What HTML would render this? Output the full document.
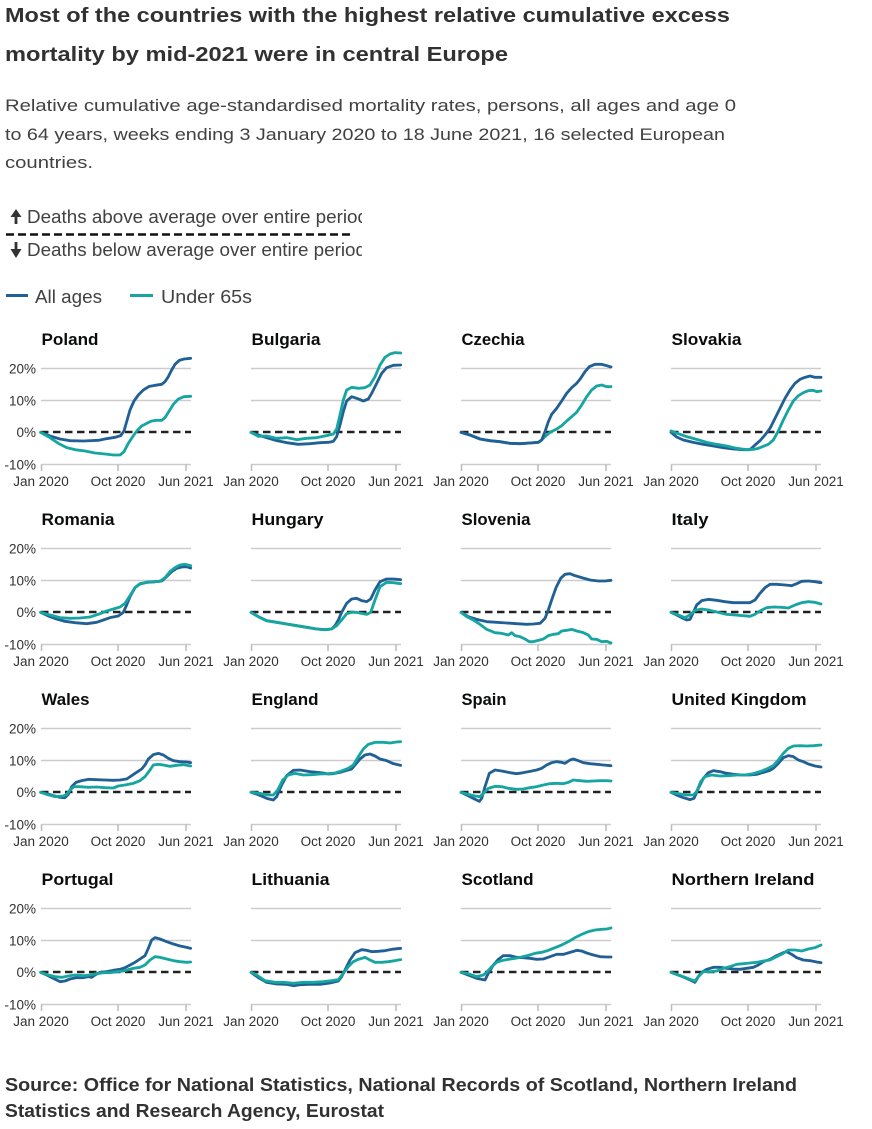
<!DOCTYPE html>
<html><head><meta charset="utf-8"><style>
html,body{margin:0;padding:0;background:#fff;}
svg{display:block;}
text{font-family:"Liberation Sans",Arial,sans-serif;}
.t{font-weight:bold;font-size:20px;fill:#323132;}
.s{font-size:17px;fill:#414042;}
.a{font-size:18px;fill:#414042;}
.pt{font-weight:bold;font-size:17px;fill:#0b0c0c;}
.yl{font-size:13.5px;fill:#323132;text-anchor:end;}
.xl{font-size:13.5px;fill:#323132;text-anchor:middle;}
.b{fill:none;stroke:#206095;stroke-width:8.5;stroke-linejoin:round;stroke-linecap:round;}
.g{fill:none;stroke:#16a5a0;stroke-width:8.5;stroke-linejoin:round;stroke-linecap:round;}
</style></head><body>
<svg width="872" height="1129" viewBox="0 0 872 1129" xmlns="http://www.w3.org/2000/svg">
<defs>
<clipPath id="clipA"><rect x="0" y="195" width="362" height="70"/></clipPath>
<g id="grid">
<line x1="0" x2="150" y1="-63.5" y2="-63.5" stroke="#cccccc" stroke-width="1.5"/>
<line x1="0" x2="150" y1="-31.5" y2="-31.5" stroke="#cccccc" stroke-width="1.5"/>
<line x1="0" x2="150" y1="32.5" y2="32.5" stroke="#cccccc" stroke-width="1.5"/>
<line x1="0.5" x2="0.5" y1="32.5" y2="39" stroke="#bbbbbb" stroke-width="1.5"/>
<line x1="77" x2="77" y1="32.5" y2="39" stroke="#bbbbbb" stroke-width="1.5"/>
<line x1="145" x2="145" y1="32.5" y2="39" stroke="#bbbbbb" stroke-width="1.5"/>
<line x1="0" x2="150" y1="0" y2="0" stroke="#222" stroke-width="2.6" stroke-dasharray="7.5 4.5"/>
</g>
</defs>
<rect width="872" height="1129" fill="#fff"/>

<!-- Title -->
<text class="t" x="5" y="22" textLength="725" lengthAdjust="spacingAndGlyphs">Most of the countries with the highest relative cumulative excess</text>
<text class="t" x="5" y="61" textLength="503" lengthAdjust="spacingAndGlyphs">mortality by mid-2021 were in central Europe</text>

<text class="s" x="5" y="111" textLength="731" lengthAdjust="spacingAndGlyphs">Relative cumulative age-standardised mortality rates, persons, all ages and age 0</text>
<text class="s" x="5" y="140" textLength="720" lengthAdjust="spacingAndGlyphs">to 64 years, weeks ending 3 January 2020 to 18 June 2021, 16 selected European</text>
<text class="s" x="5" y="168" textLength="88" lengthAdjust="spacingAndGlyphs">countries.</text>

<!-- Annotation -->
<path d="M10.5,217 L16,209 L21.5,217 Z" fill="#333"/>
<rect x="14.6" y="215" width="2.8" height="9" fill="#333"/>
<g clip-path="url(#clipA)">
<text class="a" x="27" y="223" textLength="341" lengthAdjust="spacingAndGlyphs">Deaths above average over entire period</text>
<text class="a" x="27" y="256" textLength="339" lengthAdjust="spacingAndGlyphs">Deaths below average over entire period</text>
</g>
<line x1="6" x2="350" y1="234.5" y2="234.5" stroke="#111" stroke-width="2.6" stroke-dasharray="8 4"/>
<rect x="14.6" y="242" width="2.8" height="9" fill="#333"/>
<path d="M10.5,249 L16,258 L21.5,249 Z" fill="#333"/>

<!-- Legend -->
<line x1="6" x2="28" y1="295.5" y2="295.5" stroke="#206095" stroke-width="3"/>
<text class="a" x="35" y="303" textLength="67" lengthAdjust="spacingAndGlyphs">All ages</text>
<line x1="130" x2="153" y1="295.5" y2="295.5" stroke="#16a5a0" stroke-width="3"/>
<text class="a" x="161" y="303" textLength="91" lengthAdjust="spacingAndGlyphs">Under 65s</text>

<!-- Grids -->
<use href="#grid" x="41" y="432"/><use href="#grid" x="251" y="432"/><use href="#grid" x="461" y="432"/><use href="#grid" x="671" y="432"/>
<use href="#grid" x="41" y="612"/><use href="#grid" x="251" y="612"/><use href="#grid" x="461" y="612"/><use href="#grid" x="671" y="612"/>
<use href="#grid" x="41" y="792"/><use href="#grid" x="251" y="792"/><use href="#grid" x="461" y="792"/><use href="#grid" x="671" y="792"/>
<use href="#grid" x="41" y="972"/><use href="#grid" x="251" y="972"/><use href="#grid" x="461" y="972"/><use href="#grid" x="671" y="972"/>

<!-- Y labels -->
<g>
<text class="yl" x="36" y="373.5">20%</text><text class="yl" x="36" y="405.5">10%</text><text class="yl" x="36" y="437">0%</text><text class="yl" x="36" y="469.5">-10%</text>
<text class="yl" x="36" y="553.5">20%</text><text class="yl" x="36" y="585.5">10%</text><text class="yl" x="36" y="617">0%</text><text class="yl" x="36" y="649.5">-10%</text>
<text class="yl" x="36" y="733.5">20%</text><text class="yl" x="36" y="765.5">10%</text><text class="yl" x="36" y="797">0%</text><text class="yl" x="36" y="829.5">-10%</text>
<text class="yl" x="36" y="913.5">20%</text><text class="yl" x="36" y="945.5">10%</text><text class="yl" x="36" y="977">0%</text><text class="yl" x="36" y="1009.5">-10%</text>
</g>

<!-- X labels -->
<g>
<text class="xl" x="41" y="486">Jan 2020</text><text class="xl" x="118" y="486">Oct 2020</text><text class="xl" x="186" y="486">Jun 2021</text>
<text class="xl" x="251" y="486">Jan 2020</text><text class="xl" x="328" y="486">Oct 2020</text><text class="xl" x="396" y="486">Jun 2021</text>
<text class="xl" x="461" y="486">Jan 2020</text><text class="xl" x="538" y="486">Oct 2020</text><text class="xl" x="606" y="486">Jun 2021</text>
<text class="xl" x="671" y="486">Jan 2020</text><text class="xl" x="748" y="486">Oct 2020</text><text class="xl" x="816" y="486">Jun 2021</text>
<text class="xl" x="41" y="666">Jan 2020</text><text class="xl" x="118" y="666">Oct 2020</text><text class="xl" x="186" y="666">Jun 2021</text>
<text class="xl" x="251" y="666">Jan 2020</text><text class="xl" x="328" y="666">Oct 2020</text><text class="xl" x="396" y="666">Jun 2021</text>
<text class="xl" x="461" y="666">Jan 2020</text><text class="xl" x="538" y="666">Oct 2020</text><text class="xl" x="606" y="666">Jun 2021</text>
<text class="xl" x="671" y="666">Jan 2020</text><text class="xl" x="748" y="666">Oct 2020</text><text class="xl" x="816" y="666">Jun 2021</text>
<text class="xl" x="41" y="846">Jan 2020</text><text class="xl" x="118" y="846">Oct 2020</text><text class="xl" x="186" y="846">Jun 2021</text>
<text class="xl" x="251" y="846">Jan 2020</text><text class="xl" x="328" y="846">Oct 2020</text><text class="xl" x="396" y="846">Jun 2021</text>
<text class="xl" x="461" y="846">Jan 2020</text><text class="xl" x="538" y="846">Oct 2020</text><text class="xl" x="606" y="846">Jun 2021</text>
<text class="xl" x="671" y="846">Jan 2020</text><text class="xl" x="748" y="846">Oct 2020</text><text class="xl" x="816" y="846">Jun 2021</text>
<text class="xl" x="41" y="1026">Jan 2020</text><text class="xl" x="118" y="1026">Oct 2020</text><text class="xl" x="186" y="1026">Jun 2021</text>
<text class="xl" x="251" y="1026">Jan 2020</text><text class="xl" x="328" y="1026">Oct 2020</text><text class="xl" x="396" y="1026">Jun 2021</text>
<text class="xl" x="461" y="1026">Jan 2020</text><text class="xl" x="538" y="1026">Oct 2020</text><text class="xl" x="606" y="1026">Jun 2021</text>
<text class="xl" x="671" y="1026">Jan 2020</text><text class="xl" x="748" y="1026">Oct 2020</text><text class="xl" x="816" y="1026">Jun 2021</text>
</g>

<!-- Panel titles -->
<text class="pt" x="41.5" y="345" textLength="57" lengthAdjust="spacingAndGlyphs">Poland</text>
<text class="pt" x="251.5" y="345" textLength="69" lengthAdjust="spacingAndGlyphs">Bulgaria</text>
<text class="pt" x="461.5" y="345" textLength="63" lengthAdjust="spacingAndGlyphs">Czechia</text>
<text class="pt" x="671.5" y="345" textLength="70" lengthAdjust="spacingAndGlyphs">Slovakia</text>
<text class="pt" x="41.5" y="525" textLength="73" lengthAdjust="spacingAndGlyphs">Romania</text>
<text class="pt" x="251.5" y="525" textLength="72" lengthAdjust="spacingAndGlyphs">Hungary</text>
<text class="pt" x="461.5" y="525" textLength="69" lengthAdjust="spacingAndGlyphs">Slovenia</text>
<text class="pt" x="671.5" y="525" textLength="37" lengthAdjust="spacingAndGlyphs">Italy</text>
<text class="pt" x="41.5" y="705" textLength="48" lengthAdjust="spacingAndGlyphs">Wales</text>
<text class="pt" x="251.5" y="705" textLength="67" lengthAdjust="spacingAndGlyphs">England</text>
<text class="pt" x="461.5" y="705" textLength="45" lengthAdjust="spacingAndGlyphs">Spain</text>
<text class="pt" x="671.5" y="705" textLength="135" lengthAdjust="spacingAndGlyphs">United Kingdom</text>
<text class="pt" x="41.5" y="885" textLength="72" lengthAdjust="spacingAndGlyphs">Portugal</text>
<text class="pt" x="251.5" y="885" textLength="78" lengthAdjust="spacingAndGlyphs">Lithuania</text>
<text class="pt" x="461.5" y="885" textLength="72" lengthAdjust="spacingAndGlyphs">Scotland</text>
<text class="pt" x="671.5" y="885" textLength="143" lengthAdjust="spacingAndGlyphs">Northern Ireland</text>

<!-- Row 1 left -->
<g transform="translate(0,325) scale(0.333333)">
<path class="b" d="M122,322 L150,333 L180,342 L210,347 L250,348 L295,346 L320,341 L345,337 L362,332 L372,318 L380,290 L390,255 L402,228 L415,210 L430,195 L448,184 L465,181 L485,178 L495,170 L505,155 L515,135 L525,118 L538,106 L552,102 L572,100"/>
<path class="g" d="M122,322 L150,338 L175,355 L200,368 L225,374 L255,378 L285,384 L315,387 L340,390 L360,390 L372,380 L385,355 L398,335 L412,316 L425,303 L440,295 L455,288 L470,286 L485,286 L495,278 L505,262 L520,238 L535,222 L552,215 L572,214"/>
<path class="b" d="M753,322 L775,330 L800,338 L830,347 L860,353 L895,358 L930,356 L960,353 L985,352 L1000,349 L1010,335 L1020,300 L1030,260 L1040,228 L1055,215 L1070,220 L1090,228 L1105,222 L1115,205 L1130,175 L1145,145 L1160,128 L1180,121 L1202,120"/>
<path class="g" d="M753,322 L775,334 L800,333 L830,340 L860,338 L890,344 L920,340 L950,338 L980,332 L1000,327 L1010,312 L1020,270 L1030,225 L1040,195 L1055,187 L1075,190 L1095,188 L1110,180 L1125,155 L1140,120 L1155,97 L1170,87 L1185,83 L1202,84"/>
</g>
<!-- Row 1 right -->
<g transform="translate(430,325) scale(0.333333)">
<path class="g" d="M93,322 L120,330 L150,342 L180,347 L210,350 L240,355 L270,356 L300,354 L325,352 L335,345 L345,335 L360,322 L380,312 L395,302 L410,288 L425,275 L440,262 L455,240 L470,215 L485,195 L500,183 L515,180 L530,185 L543,185"/>
<path class="b" d="M93,322 L120,330 L150,342 L180,347 L210,350 L240,355 L270,356 L300,354 L325,352 L335,345 L345,320 L355,290 L365,268 L380,250 L395,228 L410,205 L425,188 L440,175 L452,160 L465,140 L478,125 L495,118 L515,118 L530,122 L543,126"/>
<path class="b" d="M723,322 L740,336 L760,345 L790,352 L820,358 L850,363 L880,368 L910,372 L940,374 L960,374 L975,360 L990,347 L1005,330 L1020,310 L1035,280 L1050,250 L1065,220 L1080,195 L1095,175 L1110,163 L1125,157 L1140,153 L1155,157 L1173,157"/>
<path class="g" d="M723,318 L745,326 L770,335 L800,343 L830,352 L860,358 L890,363 L920,370 L950,374 L970,373 L985,370 L1000,364 L1015,358 L1030,345 L1045,318 L1060,285 L1075,255 L1090,228 L1105,212 L1120,203 L1135,197 L1150,196 L1160,200 L1173,198"/>
</g>
<!-- Row 2 left -->
<g transform="translate(0,505) scale(0.333333)">
<path class="b" d="M122,322 L145,333 L170,342 L195,349 L225,353 L260,356 L290,352 L310,345 L330,338 L355,333 L370,322 L380,300 L390,275 L405,248 L420,237 L440,232 L460,231 L485,228 L500,215 L515,200 L530,190 L545,186 L560,185 L572,189"/>
<path class="g" d="M122,322 L150,330 L180,338 L210,340 L240,339 L270,336 L295,328 L320,318 L340,312 L360,306 L375,295 L390,272 L405,248 L420,236 L440,232 L460,230 L480,229 L495,218 L510,200 L525,188 L540,180 L555,178 L572,182"/>
<path class="b" d="M753,322 L775,335 L800,347 L830,352 L860,357 L890,362 L920,367 L950,372 L975,374 L995,372 L1005,362 L1015,345 L1025,322 L1040,295 L1055,282 L1070,280 L1085,287 L1100,290 L1112,282 L1125,255 L1140,230 L1160,222 L1180,222 L1202,224"/>
<path class="g" d="M753,322 L775,335 L800,347 L830,352 L860,357 L890,362 L920,367 L950,372 L975,374 L995,372 L1010,362 L1025,345 L1040,326 L1055,322 L1070,322 L1085,325 L1100,328 L1112,322 L1125,285 L1140,245 L1160,232 L1180,233 L1202,236"/>
</g>
<!-- Row 2 right -->
<g transform="translate(430,505) scale(0.333333)">
<path class="b" d="M93,322 L115,335 L140,343 L170,350 L200,352 L230,354 L260,356 L290,358 L310,357 L330,355 L345,340 L355,315 L365,285 L378,248 L392,220 L405,208 L420,206 L435,212 L455,218 L480,225 L505,228 L525,228 L543,226"/>
<path class="g" d="M93,322 L110,335 L130,345 L150,358 L170,373 L195,383 L215,385 L235,390 L245,383 L255,392 L270,395 L285,402 L298,410 L310,410 L325,406 L340,402 L355,392 L370,388 L385,386 L395,378 L410,376 L425,373 L440,378 L460,383 L475,390 L485,402 L500,403 L515,410 L530,409 L543,414"/>
<path class="b" d="M723,322 L740,330 L755,338 L770,345 L780,343 L790,322 L800,300 L815,287 L835,283 L860,286 L885,290 L910,293 L935,293 L960,293 L975,285 L990,265 L1005,248 L1020,238 L1040,238 L1065,240 L1085,242 L1100,236 L1115,229 L1135,228 L1155,230 L1173,233"/>
<path class="g" d="M723,322 L745,330 L765,338 L780,330 L795,316 L815,312 L840,316 L865,322 L890,328 L915,330 L940,332 L960,334 L975,328 L990,318 L1010,308 L1030,306 L1055,307 L1075,309 L1095,300 L1115,293 L1135,290 L1155,292 L1173,297"/>
</g>
<!-- Row 3 left -->
<g transform="translate(0,685) scale(0.333333)">
<path class="b" d="M122,322 L140,326 L160,332 L180,337 L195,338 L205,328 L215,305 L228,292 L245,287 L265,283 L290,284 L315,285 L340,286 L360,285 L380,282 L395,272 L410,262 L425,252 L435,240 L445,222 L460,209 L475,205 L490,210 L505,220 L520,227 L540,230 L560,231 L572,233"/>
<path class="g" d="M122,322 L140,328 L165,335 L190,333 L200,328 L210,315 L222,305 L240,305 L265,307 L290,306 L315,308 L340,309 L355,303 L375,300 L400,295 L420,287 L435,275 L450,255 L460,240 L475,238 L490,240 L510,244 L530,241 L550,239 L572,243"/>
<path class="b" d="M753,322 L775,329 L800,340 L820,345 L830,335 L845,300 L860,272 L880,256 L900,255 L930,260 L950,262 L970,264 L985,267 L1000,266 L1020,262 L1040,256 L1055,252 L1065,240 L1080,222 L1095,210 L1110,207 L1125,213 L1140,222 L1160,227 L1180,236 L1202,241"/>
<path class="g" d="M753,322 L780,325 L805,330 L820,330 L833,315 L848,285 L865,270 L885,265 L910,270 L935,269 L960,267 L985,266 L1005,264 L1025,258 L1045,250 L1060,240 L1075,215 L1090,192 L1105,178 L1125,172 L1150,172 L1170,174 L1190,171 L1202,170"/>
</g>
<!-- Row 3 right -->
<g transform="translate(430,685) scale(0.333333)">
<path class="b" d="M93,322 L110,330 L130,340 L148,349 L155,340 L165,305 L178,265 L195,255 L215,258 L240,263 L260,266 L280,263 L300,259 L320,255 L335,250 L350,240 L365,233 L380,230 L395,232 L405,235 L420,225 L430,222 L445,227 L460,233 L480,236 L500,238 L520,240 L543,242"/>
<path class="g" d="M93,322 L115,328 L135,333 L150,335 L160,325 L175,310 L195,304 L215,305 L235,310 L260,313 L280,312 L300,308 L320,305 L340,300 L360,296 L380,295 L400,296 L415,292 L430,285 L450,287 L470,289 L490,288 L510,287 L530,287 L543,288"/>
<path class="b" d="M723,322 L740,330 L760,338 L780,344 L792,340 L805,310 L820,280 L835,263 L850,257 L870,260 L890,265 L910,268 L935,270 L960,270 L980,268 L1000,262 L1020,256 L1030,250 L1045,235 L1060,218 L1075,212 L1090,215 L1105,225 L1120,230 L1135,237 L1155,243 L1173,246"/>
<path class="g" d="M723,322 L745,326 L770,330 L790,330 L800,320 L812,290 L825,275 L845,270 L870,273 L895,272 L920,270 L945,270 L970,266 L990,260 L1010,252 L1030,242 L1045,225 L1060,205 L1075,190 L1090,183 L1110,182 L1130,183 L1150,182 L1173,180"/>
</g>
<!-- Row 4 left -->
<g transform="translate(0,865) scale(0.333333)">
<path class="b" d="M122,322 L140,330 L160,340 L180,350 L195,348 L210,342 L230,338 L250,338 L265,335 L275,337 L285,330 L300,322 L320,320 L340,316 L360,313 L375,308 L390,300 L405,292 L420,282 L435,272 L445,250 L455,225 L465,218 L480,222 L500,230 L520,237 L540,243 L560,247 L572,250"/>
<path class="g" d="M122,322 L145,330 L165,335 L185,337 L205,333 L225,330 L250,332 L270,330 L290,326 L310,323 L330,323 L350,320 L370,318 L385,314 L400,310 L420,307 L435,300 L450,285 L465,275 L480,277 L500,282 L520,287 L540,290 L560,292 L572,291"/>
<path class="b" d="M753,322 L775,338 L800,352 L830,357 L860,358 L880,362 L900,359 L930,358 L960,358 L990,354 L1015,348 L1025,335 L1035,315 L1050,285 L1065,263 L1085,254 L1100,256 L1115,260 L1135,259 L1155,257 L1175,253 L1202,250"/>
<path class="g" d="M753,322 L770,330 L795,347 L825,352 L850,352 L880,355 L910,352 L940,352 L970,350 L995,347 L1015,344 L1030,325 L1045,305 L1060,290 L1075,283 L1095,277 L1110,285 L1125,292 L1145,292 L1165,290 L1185,287 L1202,284"/>
</g>
<!-- Row 4 right -->
<g transform="translate(430,865) scale(0.333333)">
<path class="b" d="M93,322 L115,330 L140,340 L165,345 L175,325 L190,300 L205,283 L220,272 L240,272 L260,277 L280,278 L300,280 L320,283 L340,282 L360,275 L380,268 L400,268 L420,262 L440,256 L455,258 L470,264 L490,270 L510,275 L530,276 L543,276"/>
<path class="g" d="M93,322 L115,326 L140,335 L160,330 L170,322 L185,305 L200,292 L215,287 L235,283 L255,280 L275,276 L295,271 L315,265 L335,262 L355,256 L375,248 L395,240 L415,230 L435,218 L455,208 L475,200 L495,195 L515,193 L530,192 L543,189"/>
<path class="b" d="M723,322 L745,330 L765,338 L780,345 L795,352 L805,335 L815,322 L830,313 L850,307 L870,307 L890,310 L910,312 L930,313 L950,310 L970,307 L985,300 L1000,290 L1020,283 L1040,272 L1060,263 L1070,260 L1085,268 L1100,278 L1120,285 L1140,287 L1160,291 L1173,293"/>
<path class="g" d="M723,322 L745,330 L765,337 L785,345 L795,348 L805,335 L820,320 L840,320 L860,318 L880,310 L900,305 L920,298 L940,296 L960,294 L980,292 L1000,288 L1020,285 L1040,275 L1060,265 L1075,255 L1095,255 L1115,258 L1135,252 L1155,248 L1173,240"/>
</g>

<!-- Source -->
<text class="t" style="font-size:18.5px" x="5" y="1091" textLength="792" lengthAdjust="spacingAndGlyphs">Source: Office for National Statistics, National Records of Scotland, Northern Ireland</text>
<text class="t" style="font-size:18.5px" x="5" y="1117" textLength="379" lengthAdjust="spacingAndGlyphs">Statistics and Research Agency, Eurostat</text>
</svg>
</body></html>
